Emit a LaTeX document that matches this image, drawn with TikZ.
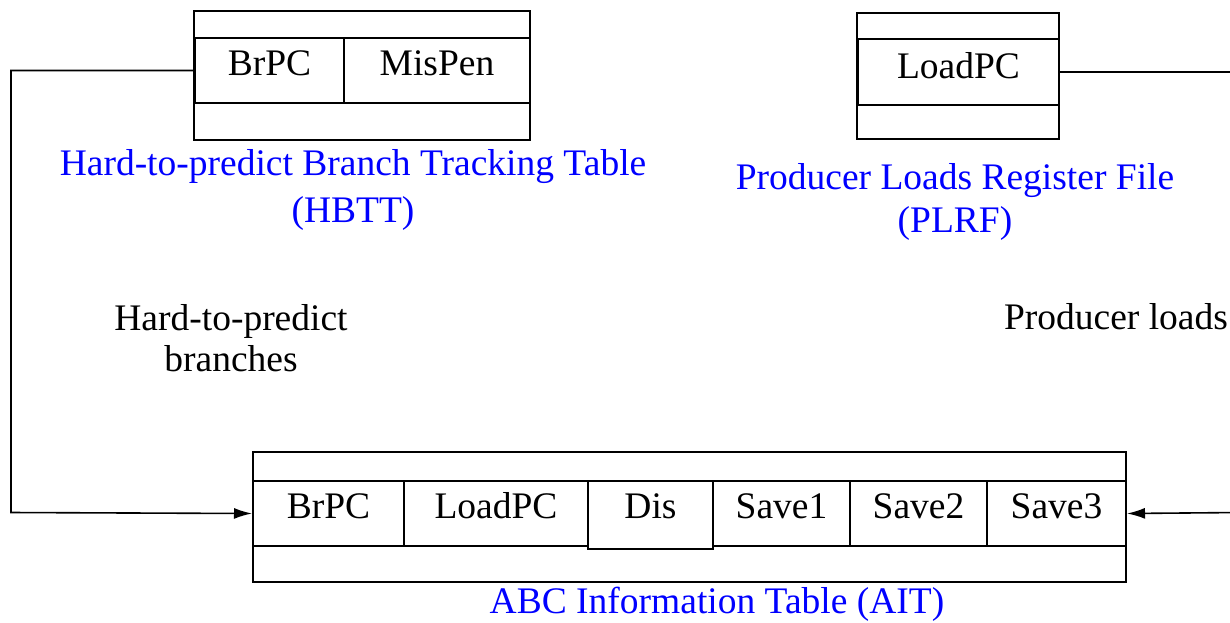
\documentclass[tikz,border=0pt]{standalone}
\usepackage{fontspec}
\setmainfont{Liberation Serif}
\usetikzlibrary{arrows.meta}
\definecolor{lblblue}{RGB}{0,0,255}
\tikzset{
  box/.style={draw, line width=2pt, inner sep=0pt, anchor=north west},
  cell/.style={draw, line width=2pt, inner sep=0pt, anchor=north west, font=\fontsize{37.5}{44}\selectfont},
  lbl/.style={inner sep=0pt, align=center, font=\fontsize{37.5}{44}\selectfont},
  conn/.style={line width=1.6pt},
  arr/.style={conn, -{Latex[length=18pt,width=11pt]}}
}
\begin{document}
\begin{tikzpicture}[x=1pt,y=-1pt]
\useasboundingbox (0,0) rectangle (1230,622);

% HBTT
\node[box, minimum width=336pt, minimum height=129pt] (hbtt) at (193,10) {};
\node[cell, minimum width=149pt, minimum height=65pt, text height=37pt, text depth=28pt] (hbrpc) at (194,37) {BrPC};
\node[cell, minimum width=186pt, minimum height=65pt, text height=37pt, text depth=28pt] (hmispen) at (343,37) {MisPen};
\node[lbl, text=lblblue, font=\fontsize{37.5}{47}\selectfont] (hbttlbl) at (353,190) {Hard-to-predict Branch Tracking Table\\(HBTT)};

% PLRF
\node[box, minimum width=202pt, minimum height=126pt] (plrf) at (856,12) {};
\node[cell, minimum width=201pt, minimum height=66pt, text height=39pt, text depth=27pt] (ploadpc) at (857,38) {LoadPC};
\node[lbl, text=lblblue, font=\fontsize{37.5}{43}\selectfont] (plrflbl) at (955,202) {Producer Loads Register File\\(PLRF)};

% side labels
\node[lbl, font=\fontsize{37.5}{41}\selectfont] (hbl) at (231,338) {Hard-to-predict\\branches};
\node[lbl] (pll) at (1116,317) {Producer loads};

% AIT
\node[box, minimum width=873pt, minimum height=130pt] (ait) at (252,451) {};
\node[cell, minimum width=151pt, minimum height=65pt, text height=37pt, text depth=28pt] (abrpc) at (252,480) {BrPC};
\node[cell, minimum width=184pt, minimum height=65pt, text height=37pt, text depth=28pt] (aloadpc) at (403,480) {LoadPC};
\node[cell, minimum width=125pt, minimum height=68pt, text height=37pt, text depth=31pt] (adis) at (587,480) {Dis};
\node[cell, minimum width=137pt, minimum height=65pt, text height=37pt, text depth=28pt] (asave1) at (712,480) {Save1};
\node[cell, minimum width=137pt, minimum height=65pt, text height=37pt, text depth=28pt] (asave2) at (849,480) {Save2};
\node[cell, minimum width=139pt, minimum height=65pt, text height=37pt, text depth=28pt] (asave3) at (986,480) {Save3};
\node[lbl, text=lblblue] (aitlbl) at (717,604) {ABC Information Table (AIT)};

% connectors
\coordinate (lc) at (11,512.5);
\coordinate (rc) at (1240,512.5);
\draw[arr] (hbrpc.west) -| (lc) -- (abrpc.west);
\draw[arr] (ploadpc.east) -| (rc) -- (asave3.east);
\end{tikzpicture}
\end{document}
